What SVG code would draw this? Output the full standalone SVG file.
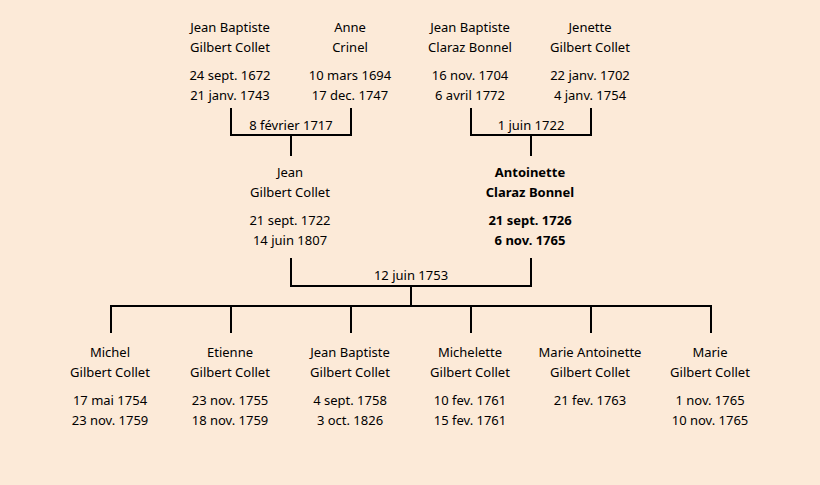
<svg xmlns="http://www.w3.org/2000/svg" width="820" height="485" viewBox="0 0 820 485">
<style>
text{font-family:"Comic Sans MS","Noto Sans",sans-serif;font-size:13px;fill:#000;text-anchor:middle;dominant-baseline:central}
.b{font-weight:bold}
.c{fill:none;stroke:#000;stroke-width:2}
</style>
<rect width="820" height="485" fill="#FCEAD8"/>
<g id="connectors">
<path class="c" d="M231,108V135H351V108M291,135V156"/>
<path class="c" d="M471,108V135H591V108M531,135V156"/>
<path class="c" d="M291,258V286H531V258M411,286V306"/>
<path class="c" d="M111,333V306H711V333M231,306V333M351,306V333M471,306V333M591,306V333"/>
<text x="291" y="125">8 février 1717</text>
<text x="531" y="125">1 juin 1722</text>
<text x="411" y="275">12 juin 1753</text>
</g>
<g id="jb-gilbert"><text x="230" y="27">Jean Baptiste</text><text x="230" y="47">Gilbert Collet</text><text x="230" y="75">24 sept. 1672</text><text x="230" y="95">21 janv. 1743</text></g>
<g id="anne-crinel"><text x="350" y="27">Anne</text><text x="350" y="47">Crinel</text><text x="350" y="75">10 mars 1694</text><text x="350" y="95">17 dec. 1747</text></g>
<g id="jb-claraz"><text x="470" y="27">Jean Baptiste</text><text x="470" y="47">Claraz Bonnel</text><text x="470" y="75">16 nov. 1704</text><text x="470" y="95">6 avril 1772</text></g>
<g id="jenette"><text x="590" y="27">Jenette</text><text x="590" y="47">Gilbert Collet</text><text x="590" y="75">22 janv. 1702</text><text x="590" y="95">4 janv. 1754</text></g>
<g id="jean"><text x="290" y="172">Jean</text><text x="290" y="192">Gilbert Collet</text><text x="290" y="220">21 sept. 1722</text><text x="290" y="240">14 juin 1807</text></g>
<g id="antoinette" class="b"><text class="b" x="530" y="172">Antoinette</text><text class="b" x="530" y="192">Claraz Bonnel</text><text class="b" x="530" y="220">21 sept. 1726</text><text class="b" x="530" y="240">6 nov. 1765</text></g>
<g id="michel"><text x="110" y="352">Michel</text><text x="110" y="372">Gilbert Collet</text><text x="110" y="400">17 mai 1754</text><text x="110" y="420">23 nov. 1759</text></g>
<g id="etienne"><text x="230" y="352">Etienne</text><text x="230" y="372">Gilbert Collet</text><text x="230" y="400">23 nov. 1755</text><text x="230" y="420">18 nov. 1759</text></g>
<g id="jean-baptiste"><text x="350" y="352">Jean Baptiste</text><text x="350" y="372">Gilbert Collet</text><text x="350" y="400">4 sept. 1758</text><text x="350" y="420">3 oct. 1826</text></g>
<g id="michelette"><text x="470" y="352">Michelette</text><text x="470" y="372">Gilbert Collet</text><text x="470" y="400">10 fev. 1761</text><text x="470" y="420">15 fev. 1761</text></g>
<g id="marie-antoinette"><text x="590" y="352">Marie Antoinette</text><text x="590" y="372">Gilbert Collet</text><text x="590" y="400">21 fev. 1763</text></g>
<g id="marie"><text x="710" y="352">Marie</text><text x="710" y="372">Gilbert Collet</text><text x="710" y="400">1 nov. 1765</text><text x="710" y="420">10 nov. 1765</text></g>
</svg>
